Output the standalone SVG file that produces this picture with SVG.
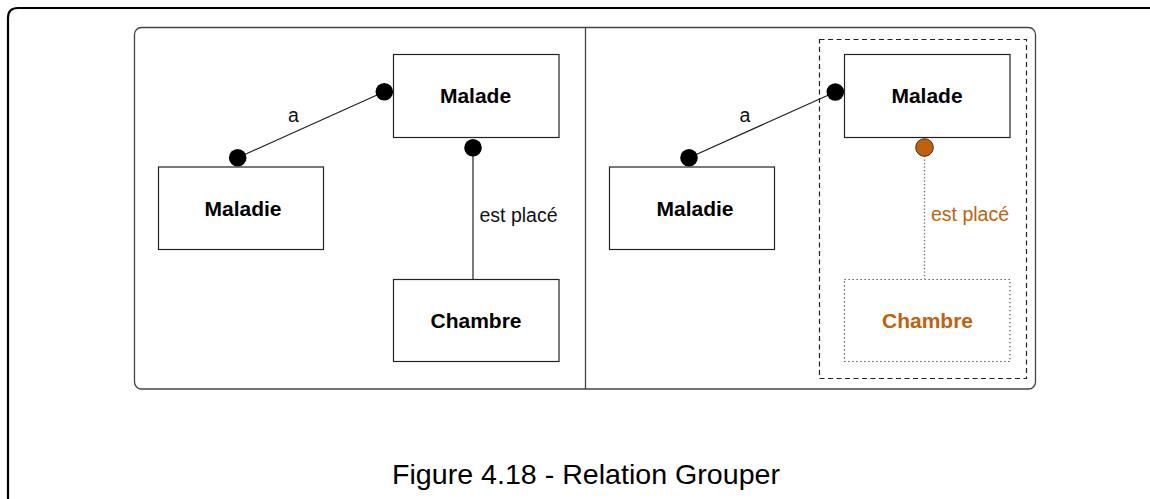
<svg xmlns="http://www.w3.org/2000/svg" width="1150" height="499" viewBox="0 0 1150 499">
<style>
.box{fill:#fff;stroke:#222;stroke-width:1.2}
.lbl{font-family:"Liberation Sans",Arial,sans-serif;font-size:21px;font-weight:bold;fill:#000;text-anchor:middle}
.rel{font-family:"Liberation Sans",Arial,sans-serif;font-size:19.5px;fill:#111}
.org{fill:#C0620C}
.con{stroke:#222;stroke-width:1.2;fill:none}
.dot{fill:#000}
</style>
<rect width="1150" height="499" fill="#fff"/>
<path d="M8 499 V18 Q8 8 18 8 H1150" fill="none" stroke="#000" stroke-width="2.2"/>
<g id="panel">
<rect x="134.5" y="27.5" width="901" height="361.5" rx="7" fill="#fff" stroke="#444" stroke-width="1.3"/>
<line x1="585.5" y1="27.5" x2="585.5" y2="389" stroke="#444" stroke-width="1.3"/>
</g>
<g id="group-dashed">
<rect x="819.5" y="39.5" width="207" height="339" fill="none" stroke="#222" stroke-width="1.2" stroke-dasharray="5,3.5"/>
</g>
<g id="connectors">
<line class="con" x1="237.7" y1="157.7" x2="384.3" y2="91.7"/>
<line class="con" x1="473" y1="148" x2="473" y2="279.5" stroke="#555"/>
<line class="con" x1="689" y1="157.7" x2="835.3" y2="92"/>
<line x1="924.5" y1="156" x2="924.5" y2="279" stroke="#666" stroke-width="1.3" stroke-dasharray="1.3,2.2"/>
<circle class="dot" cx="237.7" cy="157.7" r="8.8"/>
<circle class="dot" cx="384.3" cy="91.7" r="8.8"/>
<circle class="dot" cx="473" cy="147.7" r="8.8"/>
<circle class="dot" cx="689" cy="157.7" r="8.8"/>
<circle class="dot" cx="835.3" cy="92" r="8.8"/>
<circle cx="924.5" cy="147.5" r="8.8" fill="#C0620C" stroke="#333" stroke-width="1"/>
<text class="rel" x="293.5" y="122" text-anchor="middle">a</text>
<text class="rel" x="479.5" y="221.5">est placé</text>
<text class="rel" x="745" y="122" text-anchor="middle">a</text>
<text class="rel org" x="931" y="221">est placé</text>
</g>
<g id="malade-left">
<rect class="box" x="393.5" y="54.5" width="165.5" height="83"/>
<text class="lbl" x="475.5" y="102.5">Malade</text>
</g>
<g id="maladie-left">
<rect class="box" x="158.5" y="167" width="165" height="82.5"/>
<text class="lbl" x="243" y="215.5">Maladie</text>
</g>
<g id="chambre-left">
<rect class="box" x="393.5" y="279.5" width="165.5" height="82"/>
<text class="lbl" x="476" y="328">Chambre</text>
</g>
<g id="malade-right">
<rect class="box" x="844.5" y="54.5" width="165.5" height="83"/>
<text class="lbl" x="927" y="102.5">Malade</text>
</g>
<g id="maladie-right">
<rect class="box" x="609.5" y="167" width="165" height="82.5"/>
<text class="lbl" x="695" y="215.5">Maladie</text>
</g>
<g id="chambre-right">
<rect x="844.5" y="279.5" width="165.5" height="82" fill="#fff" stroke="#444" stroke-width="1.2" stroke-dasharray="1.3,2.7"/>
<text class="lbl org" x="927.5" y="328">Chambre</text>
</g>
<text x="586" y="483.5" font-family="'Liberation Sans',Arial,sans-serif" font-size="28.5" text-anchor="middle" textLength="388" lengthAdjust="spacingAndGlyphs" fill="#000">Figure 4.18 - Relation Grouper</text>
</svg>
